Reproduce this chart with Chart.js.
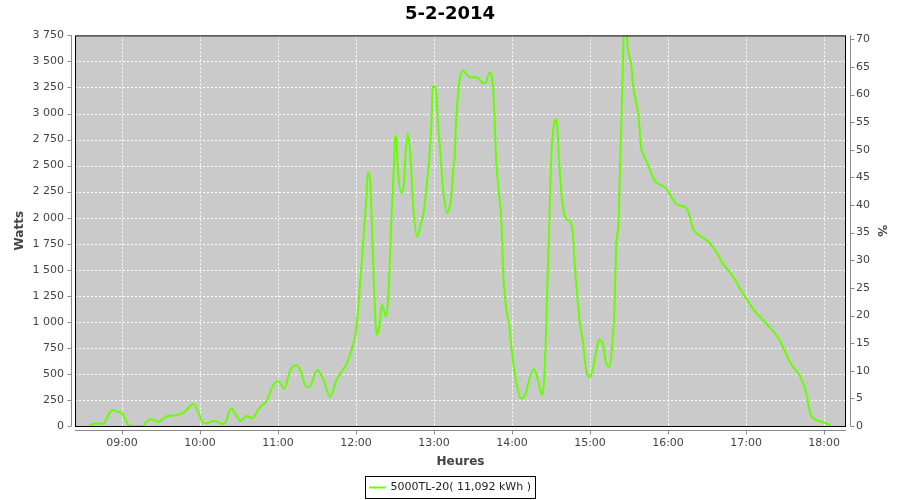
<!DOCTYPE html>
<html>
<head>
<meta charset="utf-8">
<script src="https://cdn.jsdelivr.net/npm/chart.js@4.4.1/dist/chart.umd.min.js"></script>
<style>
  html, body { margin: 0; padding: 0; background: #fff; }
  #wrap { width: 900px; height: 500px; }
</style>
</head>
<body>
<div id="wrap"><canvas id="chart" width="900" height="500"></canvas></div>
<script>
// readings of the day (time, watts)
var times = [
  '08:35', '08:37', '08:45', '08:47', '08:50', '08:53', '08:56', '09:00', '09:03', '09:05',
  '09:10', '09:16', '09:19', '09:22', '09:28', '09:35', '09:42', '09:48', '09:55', '09:59',
  '10:02', '10:05', '10:11', '10:17', '10:19', '10:24', '10:27', '10:31', '10:36', '10:40',
  '10:46', '10:51', '10:56', '11:00', '11:05', '11:09', '11:14', '11:17', '11:22', '11:25',
  '11:30', '11:35', '11:40', '11:45', '11:49', '11:53', '11:58', '12:00', '12:03', '12:06',
  '12:08', '12:09', '12:11', '12:12', '12:14', '12:16', '12:18', '12:20', '12:21', '12:23',
  '12:25', '12:27', '12:29', '12:30', '12:31', '12:32', '12:35', '12:37', '12:38', '12:40',
  '12:42', '12:44', '12:47', '12:50', '12:52', '12:54', '12:56', '12:58', '12:59', '13:01',
  '13:02', '13:03', '13:05', '13:07', '13:10', '13:11', '13:13', '13:15', '13:16', '13:17',
  '13:19', '13:20', '13:22', '13:25', '13:27', '13:33', '13:35', '13:37', '13:40', '13:41',
  '13:43', '13:45', '13:46', '13:47', '13:48', '13:50', '13:52', '13:53', '13:55', '13:58',
  '14:00', '14:03', '14:07', '14:10', '14:14', '14:17', '14:20', '14:23', '14:25', '14:27',
  '14:29', '14:30', '14:32', '14:34', '14:35', '14:36', '14:38', '14:40', '14:42', '14:45',
  '14:47', '14:48', '14:50', '14:52', '14:55', '14:57', '15:00', '15:02', '15:05', '15:07',
  '15:10', '15:12', '15:15', '15:17', '15:19', '15:20', '15:22', '15:23', '15:24', '15:25',
  '15:26', '15:28', '15:29', '15:31', '15:32', '15:33', '15:35', '15:37', '15:38', '15:39',
  '15:41', '15:44', '15:47', '15:50', '15:54', '15:59', '16:03', '16:07', '16:13', '16:16',
  '16:19', '16:22', '16:32', '16:37', '16:42', '16:50', '16:55', '17:00', '17:07', '17:13',
  '17:20', '17:25', '17:30', '17:35', '17:41', '17:44', '17:47', '17:49', '17:53', '17:58',
  '18:05'
]
var watts = [
  0, 20, 22, 40, 120, 154, 140, 120, 55, 8,
  0, 0, 40, 64, 42, 96, 103, 135, 212, 122,
  38, 26, 51, 19, 24, 167, 120, 51, 96, 74,
  180, 234, 385, 430, 359, 522, 583, 538, 372, 385,
  538, 442, 282, 442, 522, 603, 795, 910, 1340, 1853,
  2205, 2436, 2333, 2013, 1276, 875, 955, 1163, 1131, 1051,
  1276, 1917, 2461, 2766, 2782, 2510, 2237, 2350, 2600, 2808,
  2558, 2109, 1820, 1949, 2045, 2269, 2510, 2926, 3263, 3253,
  3151, 2926, 2606, 2269, 2045, 2060, 2173, 2493, 2600, 2926,
  3247, 3343, 3413, 3382, 3349, 3349, 3327, 3295, 3295, 3343,
  3391, 3311, 3119, 2798, 2510, 2237, 1917, 1532, 1180, 955,
  699, 442, 266, 298, 474, 545, 442, 298, 506, 1276,
  2077, 2525, 2878, 2942, 2846, 2590, 2237, 2045, 1981, 1965,
  1820, 1596, 1276, 1019, 763, 538, 474, 538, 731, 827,
  779, 619, 570, 763, 1182, 1692, 1981, 2461, 2878, 3327,
  3780, 3780, 3634, 3506, 3442, 3282, 3135, 3007, 2878, 2702,
  2606, 2525, 2429, 2349, 2317, 2276, 2189, 2125, 2102, 2045,
  1901, 1853, 1757, 1676, 1564, 1436, 1324, 1228, 1099, 1019,
  923, 843, 715, 587, 490, 410, 282, 138, 64, 42,
  10
]
var hourTicks = ['09:00', '10:00', '11:00', '12:00', '13:00', '14:00', '15:00', '16:00', '17:00', '18:00']
var seriesName = '5000TL-20( 11,092 kWh )'
var chartTitle = '5-2-2014'

function toMin (t) {
  var p = t.split(':')
  return +p[0] * 60 + +p[1]
}
function fmtTime (m) {
  var h = Math.floor(m / 60)
  var mm = Math.round(m - h * 60)
  return (h < 10 ? '0' : '') + h + ':' + (mm < 10 ? '0' : '') + mm
}
function spaced (v) {
  return String(v).replace(/\B(?=(\d{3})+(?!\d))/g, ' ')
}

var points = times.map(function (t, i) { return { x: toMin(t), y: watts[i] } })

var axisGray = '#8a8a8a'
var tickFont = { family: 'DejaVu Sans', size: 11 }
var axisTitleFont = { family: 'DejaVu Sans', size: 12, weight: 'bold' }

// plot background + dashed grid, black frame, offset axis lines, legend frame
var plotDeco = {
  id: 'plotDeco',
  beforeDatasetsDraw: function (chart) {
    var a = chart.chartArea
    var ctx = chart.ctx
    ctx.save()
    ctx.fillStyle = '#cacaca'
    ctx.fillRect(a.left, a.top, a.right - a.left, a.bottom - a.top)
    ctx.strokeStyle = '#fff'
    ctx.lineWidth = 1
    ctx.setLineDash([2, 2])
    ctx.beginPath()
    chart.scales.y.ticks.forEach(function (t) {
      var py = Math.round(chart.scales.y.getPixelForValue(t.value)) + 0.5
      ctx.moveTo(a.left, py); ctx.lineTo(a.right, py)
    })
    chart.scales.x.ticks.forEach(function (t) {
      var px = Math.round(chart.scales.x.getPixelForValue(t.value)) + 0.5
      ctx.moveTo(px, a.top); ctx.lineTo(px, a.bottom)
    })
    ctx.stroke()
    ctx.restore()
  },
  afterDraw: function (chart) {
    var a = chart.chartArea
    var ctx = chart.ctx
    ctx.save()
    ctx.strokeStyle = '#000'
    ctx.lineWidth = 1
    ctx.strokeRect(a.left + 0.5, a.top + 0.5, a.right - a.left - 1, a.bottom - a.top)

    ctx.strokeStyle = axisGray
    ctx.beginPath()
    var lx = a.left - 3.5
    var rx = a.right + 4.5
    var by = a.bottom + 4.5
    ctx.moveTo(lx, a.top); ctx.lineTo(lx, a.bottom)
    ctx.moveTo(rx, a.top); ctx.lineTo(rx, a.bottom)
    ctx.moveTo(a.left, by); ctx.lineTo(a.right, by)
    chart.scales.y.ticks.forEach(function (t) {
      var py = Math.round(chart.scales.y.getPixelForValue(t.value)) + 0.5
      ctx.moveTo(lx - 4, py); ctx.lineTo(lx, py)
    })
    chart.scales.y2.ticks.forEach(function (t) {
      var py = Math.round(chart.scales.y2.getPixelForValue(t.value)) + 0.5
      ctx.moveTo(rx, py); ctx.lineTo(rx + 4, py)
    })
    chart.scales.x.ticks.forEach(function (t) {
      var px = Math.round(chart.scales.x.getPixelForValue(t.value)) + 0.5
      ctx.moveTo(px, by); ctx.lineTo(px, by + 4)
    })
    ctx.stroke()

    var hb = chart.legend.legendHitBoxes && chart.legend.legendHitBoxes[0]
    if (hb) {
      ctx.strokeStyle = '#000'
      ctx.strokeRect(Math.round(hb.left) - 3.5, Math.round(hb.top) - 5.5, Math.round(hb.width) + 8, 22)
    }
    ctx.restore()
  }
}

var ctx = document.getElementById('chart')

var myChart = new Chart(ctx, {
  type: 'line',
  data: {
    datasets: [
      {
        label: seriesName,
        data: points,
        borderColor: '#66ff00',
        backgroundColor: '#66ff00',
        borderWidth: 2,
        pointRadius: 0,
        cubicInterpolationMode: 'monotone',
        fill: false,
        yAxisID: 'y'
      }
    ]
  },
  options: {
    responsive: false,
    animation: false,
    layout: { padding: { top: 0, left: 0, right: 0, bottom: -3 } },
    plugins: {
      title: {
        display: true,
        text: chartTitle,
        color: '#000',
        font: { family: 'DejaVu Sans', size: 18, weight: 'bold' },
        padding: { top: 4, bottom: 9.8 }
      },
      legend: {
        position: 'bottom',
        labels: {
          color: '#222',
          font: { family: 'DejaVu Sans', size: 11 },
          usePointStyle: true,
          pointStyle: 'line',
          pointStyleWidth: 16,
          padding: 1
        }
      },
      tooltip: { enabled: false }
    },
    scales: {
      x: {
        type: 'linear',
        min: 503.85,
        max: 1096.9,
        afterFit: function (s) { s.height = 503 - 426 - s.chart.legend.height },
        afterBuildTicks: function (s) {
          s.ticks = hourTicks.map(function (t) { return { value: toMin(t) } })
        },
        ticks: {
          color: '#444',
          font: tickFont,
          padding: 11,
          maxRotation: 0,
          callback: function (v) { return fmtTime(v) }
        },
        grid: { display: false, drawTicks: false },
        border: { display: false },
        title: { display: true, text: 'Heures', color: '#444', font: axisTitleFont, padding: { top: 0, bottom: 12 } }
      },
      y: {
        position: 'left',
        min: 0,
        max: 3750,
        afterFit: function (s) { s.width = 75 },
        ticks: {
          stepSize: 250,
          color: '#444',
          font: tickFont,
          padding: 11,
          callback: function (v) { return spaced(v) }
        },
        grid: { display: false, drawTicks: false },
        border: { display: false },
        title: { display: true, text: 'Watts', color: '#444', font: axisTitleFont, padding: { top: 13, bottom: 13 } }
      },
      y2: {
        position: 'right',
        min: 0,
        max: 70.7,
        afterFit: function (s) { s.width = 54 },
        ticks: {
          stepSize: 5,
          includeBounds: false,
          color: '#444',
          font: tickFont,
          padding: 10
        },
        grid: { display: false, drawTicks: false },
        border: { display: false },
        title: { display: true, text: '%', color: '#444', font: axisTitleFont, padding: { top: 12, bottom: 12 } }
      }
    }
  },
  plugins: [plotDeco]
})
</script>
</body>
</html>
